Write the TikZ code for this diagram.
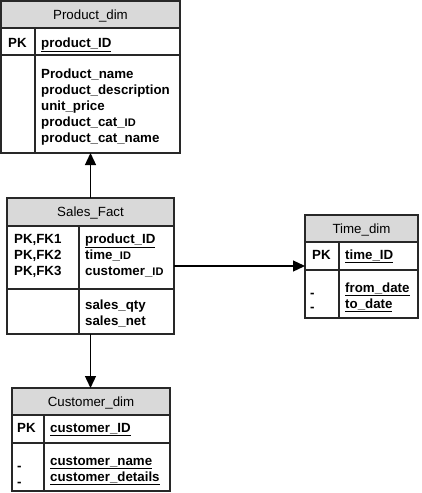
\documentclass[tikz,border=0pt]{standalone}
\usepackage{fontspec}
\setmainfont{Liberation Sans}
\usetikzlibrary{arrows.meta,positioning,fit}
\definecolor{headgray}{RGB}{217,217,217}
\definecolor{linegray}{RGB}{40,40,40}
\newcommand{\smallid}{{\fontsize{11}{12}\selectfont ID}}
\tikzset{
	head/.style={
		rectangle,
		draw=linegray,
		line width=1.3pt,
		fill=headgray,
		inner sep=0pt,
		outer sep=0pt,
		text height=9.7pt,
		text depth=0pt,
		font=\fontsize{13.3}{16}\selectfont,
	},
	rowbox/.style={
		rectangle,
		draw=linegray,
		line width=1.3pt,
		inner sep=0pt,
		outer sep=0pt,
	},
	field/.style={
		anchor=base west,
		inner sep=0pt,
		font=\fontsize{13.3}{16}\selectfont\bfseries,
	},
	divider/.style={
		draw=linegray,
		line width=1.3pt,
	},
	table/.style={
		inner sep=0pt,
		outer sep=0pt,
	},
	arc/.style={
		-{Triangle[length=12pt,width=11pt]},
		line width=1.3pt,
	},
}

\begin{document}
\begin{tikzpicture}[x=1pt,y=-1pt]
	\useasboundingbox (0,0) rectangle (421,493);

	% Product_dim
	\node [
	  head,
	  anchor=north west,
	  minimum width=179pt,
	  minimum height=27pt
	] (prodhead) at (1,1) {Product\_dim};
	\node [
	  rowbox,
	  below=0pt of prodhead,
	  minimum width=179pt,
	  minimum height=27pt
	] (prodkey) {};
	\node [
	  rowbox,
	  below=0pt of prodkey,
	  minimum width=179pt,
	  minimum height=98pt
	] (prodattr) {};
	\draw[divider] (35,28) -- (35,153);
	\node [field] at (8,47) {PK};
	\node [field] at (41,47) {\underline{product\_ID}};
	\foreach \txt [count=\i from 0] in {Product\_name,product\_description,unit\_price,product\_cat\_\smallid,product\_cat\_name}
	  \node [field] at (41,78+16*\i) {\txt};
	\node [table,fit=(prodhead)(prodattr)] (prod) {};

	% Sales_Fact
	\node [
	  head,
	  anchor=north west,
	  minimum width=167pt,
	  minimum height=28pt
	] (saleshead) at (7,198) {Sales\_Fact};
	\node [
	  rowbox,
	  below=0pt of saleshead,
	  minimum width=167pt,
	  minimum height=63pt
	] (saleskey) {};
	\node [
	  rowbox,
	  below=0pt of saleskey,
	  minimum width=167pt,
	  minimum height=45pt
	] (salesattr) {};
	\draw[divider] (79,226) -- (79,334);
	\foreach \k in {1,2,3}
	  \node [field] at (14,227+16*\k) {PK,FK\k};
	\node [field] at (85,243) {\underline{product\_ID}};
	\node [field] at (85,259) {time\_\smallid};
	\node [field] at (85,275) {customer\_\smallid};
	\node [field] at (85,309) {sales\_qty};
	\node [field] at (85,325) {sales\_net};
	\node [table,fit=(saleshead)(salesattr)] (sales) {};

	% Time_dim
	\node [
	  head,
	  anchor=north west,
	  minimum width=113pt,
	  minimum height=27pt
	] (timehead) at (305,215) {Time\_dim};
	\node [
	  rowbox,
	  below=0pt of timehead,
	  minimum width=113pt,
	  minimum height=28pt
	] (timekey) {};
	\node [
	  rowbox,
	  below=0pt of timekey,
	  minimum width=113pt,
	  minimum height=48pt
	] (timeattr) {};
	\draw[divider] (339,242) -- (339,318);
	\node [field] at (312,259) {PK};
	\node [field] at (345,259) {\underline{time\_ID}};
	\node [field] at (310,297) {-};
	\node [field] at (310,311) {-};
	\node [field] at (345,292) {\underline{from\_date}};
	\node [field] at (345,308) {\underline{to\_date}};
	\node [table,fit=(timehead)(timeattr)] (time) {};

	% Customer_dim
	\node [
	  head,
	  anchor=north west,
	  minimum width=158pt,
	  minimum height=27pt
	] (custhead) at (12,388) {Customer\_dim};
	\node [
	  rowbox,
	  below=0pt of custhead,
	  minimum width=158pt,
	  minimum height=28pt
	] (custkey) {};
	\node [
	  rowbox,
	  below=0pt of custkey,
	  minimum width=158pt,
	  minimum height=48pt
	] (custattr) {};
	\draw[divider] (44,415) -- (44,491);
	\node [field] at (17,432) {PK};
	\node [field] at (50,432) {\underline{customer\_ID}};
	\node [field] at (17,470) {-};
	\node [field] at (17,486) {-};
	\node [field] at (50,465) {\underline{customer\_name}};
	\node [field] at (50,481) {\underline{customer\_details}};
	\node [table,fit=(custhead)(custattr)] (cust) {};

	\draw[arc] (sales.north) -- (sales.north |- prod.south);
	\draw[arc] (sales.east) -- (sales.east -| time.west);
	\draw[arc] (sales.south) -- (sales.south |- cust.north);
\end{tikzpicture}
\end{document}
